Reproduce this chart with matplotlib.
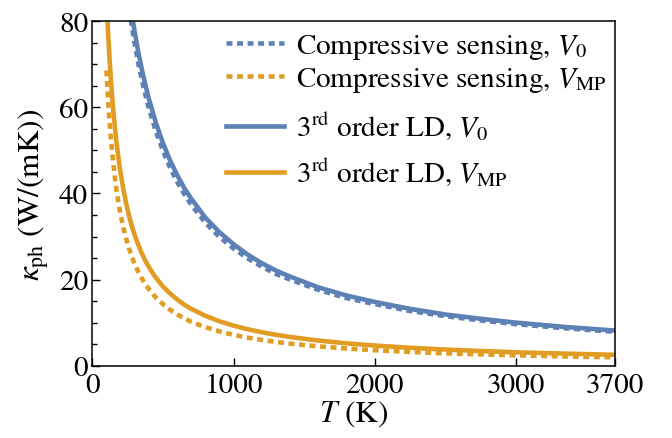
import matplotlib
matplotlib.use("Agg")
import matplotlib.pyplot as plt
from matplotlib.lines import Line2D
from matplotlib.ticker import MultipleLocator

plt.rcParams['font.family'] = 'STIXGeneral'
plt.rcParams['mathtext.fontset'] = 'stix'

# temperature grid (K)
T = [100, 105, 110, 115, 120, 130, 140, 150, 160, 170, 180, 190, 200, 220, 240,
     260, 280, 300, 325, 350, 375, 400, 450, 500, 550, 600, 650, 700, 800, 900,
     1000, 1100, 1200, 1300, 1400, 1600, 1800, 2000, 2250, 2500, 2750, 3000,
     3350, 3700]

# phonon thermal conductivity, W/(mK)
kappa_ld_v0 = [155.0, 151.2, 147.6, 144.2, 140.9, 134.8, 129.2, 124.0, 119.2,
               114.8, 110.7, 106.9, 103.3, 96.9, 91.2, 86.1, 81.6, 77.5, 72.9,
               68.9, 65.3, 62.0, 56.4, 51.7, 47.7, 44.3, 41.3, 38.8, 34.4, 31.0,
               28.2, 25.8, 23.8, 22.1, 20.7, 18.2, 16.3, 14.8, 13.2, 11.9, 10.9,
               10.0, 8.99, 8.16]
kappa_cs_v0 = [149.6, 145.9, 142.4, 139.2, 136.0, 130.1, 124.7, 119.7, 115.0,
               110.8, 106.8, 103.2, 99.7, 93.5, 88.0, 83.1, 78.7, 74.8, 70.3,
               66.5, 63.0, 59.8, 54.4, 49.9, 46.0, 42.7, 39.9, 37.4, 33.2, 29.9,
               27.2, 24.9, 23.0, 21.3, 20.0, 17.6, 15.7, 14.3, 12.7, 11.5, 10.5,
               9.65, 8.68, 7.87]
kappa_ld_vmp = [85.5, 81.7, 78.3, 75.2, 72.3, 67.1, 62.7, 58.8, 55.3, 52.2, 49.5,
                47.0, 44.8, 40.9, 37.6, 34.8, 32.4, 30.3, 28.1, 26.1, 24.4, 22.9,
                20.4, 18.4, 16.8, 15.4, 14.2, 13.2, 11.6, 10.3, 9.31, 8.47, 7.77,
                7.18, 6.67, 5.84, 5.19, 4.68, 4.16, 3.75, 3.41, 3.12, 2.80, 2.53]
kappa_cs_vmp = [68.6, 65.5, 62.6, 60.0, 57.6, 53.3, 49.7, 46.5, 43.6, 41.1, 38.9,
                36.9, 35.1, 32.0, 29.4, 27.2, 25.3, 23.6, 21.8, 20.3, 18.9, 17.8,
                15.8, 14.3, 13.0, 11.9, 11.0, 10.2, 8.94, 7.96, 7.16, 6.52, 5.98,
                5.52, 5.12, 4.49, 3.99, 3.59, 3.19, 2.87, 2.62, 2.40, 2.15, 1.95]

blue = '#5E81B5'
orange = '#E19C24'
lw = 3.3
dot = (1.3, 1.0)

fig = plt.figure(figsize=(6.72, 4.39), dpi=100)
ax = fig.add_axes([0.1374, 0.1647, 0.9152 - 0.1374, 0.9492 - 0.1647])

ax.plot(T, kappa_ld_v0, color=blue, lw=lw)
ax.plot(T, kappa_cs_v0, color=blue, lw=lw, dashes=dot, dash_capstyle='butt')
ax.plot(T, kappa_ld_vmp, color=orange, lw=lw)
ax.plot(T, kappa_cs_vmp, color=orange, lw=lw, dashes=dot, dash_capstyle='butt')

ax.set_xlim(0, 3700)
ax.set_ylim(0, 80)
ax.set_xticks([0, 1000, 2000, 3000, 3700])
ax.set_yticks([0, 20, 40, 60, 80])
ax.yaxis.set_minor_locator(MultipleLocator(5))
ax.tick_params(which='both', direction='in', top=False, right=False,
               labelsize=21, width=1.0)
ax.tick_params(axis='x', pad=5)
ax.tick_params(axis='y', pad=3)
ax.tick_params(which='major', length=6)
ax.tick_params(which='minor', length=3.5)
for s in ax.spines.values():
    s.set_linewidth(1.1)

ax.set_xlabel(r'$T$ (K)', fontsize=22.5, labelpad=0)
ax.set_ylabel(r'$\kappa_{\mathrm{ph}}$ (W/(mK))', fontsize=22.5, labelpad=6)

h_cs = [Line2D([], [], color=blue, lw=lw, dashes=dot, dash_capstyle='butt'),
        Line2D([], [], color=orange, lw=lw, dashes=dot, dash_capstyle='butt')]
h_ld = [Line2D([], [], color=blue, lw=lw),
        Line2D([], [], color=orange, lw=lw)]

leg_kw = dict(loc='upper left', frameon=False, fontsize=21, handlelength=2.0,
              handletextpad=0.4, borderpad=0, borderaxespad=0)
leg1 = ax.legend(h_cs, [r'Compressive sensing, $V_0$', r'Compressive sensing, $V_{\mathrm{MP}}$'],
                 bbox_to_anchor=(0.256, 0.968), labelspacing=0.12, **leg_kw)
ax.add_artist(leg1)
ax.legend(h_ld, [r'3$^{\mathrm{rd}}$ order LD, $V_0$', r'3$^{\mathrm{rd}}$ order LD, $V_{\mathrm{MP}}$'],
          bbox_to_anchor=(0.256, 0.742), labelspacing=0.47, **leg_kw)

fig.savefig('out.png', dpi=100)
